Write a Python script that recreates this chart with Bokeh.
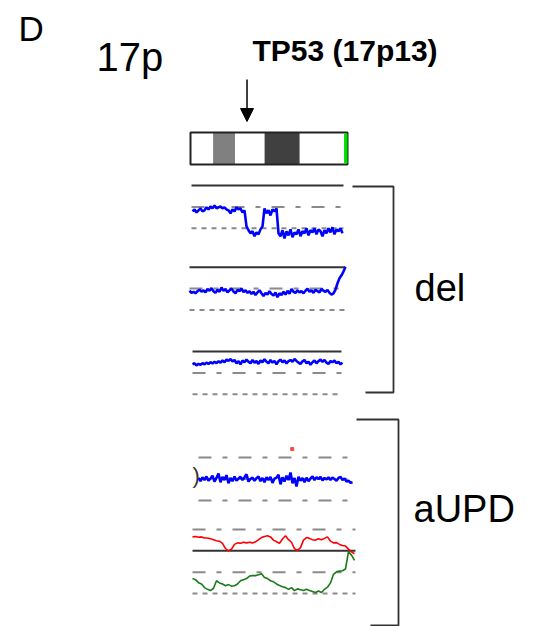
import numpy as np
from bokeh.plotting import figure
from bokeh.models import Range1d, Arrow, NormalHead
from bokeh.core.properties import value
from bokeh.embed import file_html
from bokeh.resources import INLINE

# ---------------- data ----------------
# chromosome 17p ideogram bands (Mb)
BAND_START = [0.0, 3.6, 7.1, 11.8, 17.4, 24.2]
BAND_END = [3.6, 7.1, 11.8, 17.4, 24.2, 25.0]
BAND_STAIN = ["gneg", "gpos50", "gneg", "gpos75", "gneg", "acen"]
TP53_MB = 9.0

# del sample 1 (log-ratio-like units: 0 = solid line, -1 dash-dot, -2 dashed)
DEL1_RANGE = (0.32, 24.2)
DEL1 = [-1.21, -1.12, -1.26, -1.16, -1.07, -1.21, -1.16, -1.02, -1.12, -0.98,
        -1.07, -0.93, -1.07, -1.02, -0.98, -1.07, -1.02, -1.12, -1.16, -1.30,
        -1.12, -1.21, -1.02, -1.12, -1.07, -1.26, -1.16,
        -1.91, -2.09, -2.23, -2.14, -2.37, -2.19, -2.28, -2.05, -1.91,
        -1.07, -1.30, -1.16, -1.40, -1.12, -1.21, -1.07,
        -2.23, -2.37, -2.09, -2.47, -2.14, -2.33, -2.05, -2.42, -2.19, -2.28,
        -2.05, -2.37, -2.14, -2.23, -2.00, -2.33, -2.09, -2.19, -2.00, -2.28,
        -2.05, -2.14, -2.37, -2.09, -2.23, -2.00, -2.19, -1.95, -2.28, -2.05,
        -2.14, -2.00, -2.23]

# del sample 2
DEL2_RANGE = (-0.16, 24.68)
DEL2 = [-1.10, -1.20, -1.15, -1.22, -1.12, -1.05, -1.14, -1.08, -1.18, -1.02,
        -1.10, -0.98, -1.12, -1.20, -1.05, -1.15, -0.95, -1.10, -1.02, -1.18,
        -1.08, -1.00, -1.14, -1.22, -1.06, -1.12, -1.00, -1.16, -1.08, -1.20,
        -1.12,
        -1.25, -1.15, -1.30, -1.18, -1.08, -1.22, -1.35, -1.20, -1.28, -1.12,
        -1.25, -1.32, -1.18, -1.40, -1.22, -1.30, -1.15, -1.28, -1.10, -1.24,
        -1.02, -1.15, -1.20, -1.08, -1.18, -1.12, -1.22,
        -1.10, -1.00, -1.15, -1.08, -1.20, -1.05, -1.12, -1.18, -1.02, -1.10,
        -1.15, -1.06, -1.20, -1.28,
        -1.22, -1.05, -0.75, -0.52, -0.38, -0.20, 0.02]

# del sample 3
DEL3_RANGE = (0.32, 24.2)
DEL3 = [-0.60, -0.55, -0.65, -0.58, -0.62, -0.55, -0.60, -0.52, -0.58, -0.50,
        -0.56, -0.48, -0.54, -0.46, -0.52, -0.42, -0.50, -0.38, -0.44, -0.35,
        -0.46, -0.40, -0.55, -0.45, -0.60, -0.42, -0.50, -0.38, -0.48, -0.55,
        -0.40, -0.52, -0.45, -0.58, -0.42, -0.50, -0.36, -0.48, -0.55, -0.40,
        -0.52, -0.44, -0.60, -0.46, -0.38, -0.50, -0.42, -0.56, -0.45, -0.40,
        -0.48, -0.35, -0.44, -0.52, -0.58, -0.46, -0.40, -0.55, -0.48, -0.62,
        -0.50, -0.42, -0.55, -0.45, -0.38, -0.48, -0.40, -0.52, -0.58, -0.45,
        -0.50, -0.42, -0.55, -0.48, -0.60, -0.52]

# aUPD sample: total copy number trace
UPD_TOTAL_RANGE = (1.27, 25.8)
UPD_TOTAL = [0.05, -0.10, 0.08, -0.05, 0.12, -0.08, 0.02, 0.15, -0.12, 0.05,
             0.25, -0.15, 0.10, -0.05, 0.18, -0.20, 0.05, -0.10, 0.12, -0.08,
             0.02, 0.10, -0.05, 0.08, 0.22, -0.12, 0.00, 0.06, -0.08, 0.04,
             0.12, -0.10, 0.05, -0.15, 0.08, -0.05, 0.10, -0.18, 0.02, 0.06,
             0.20, -0.25, 0.08, -0.12, 0.15, -0.05, 0.30, -0.20, 0.05, -0.35,
             0.10, -0.08, 0.04, -0.15, 0.06, -0.10, 0.02, 0.12, -0.05, 0.08,
             0.00, 0.10, -0.06, 0.05, -0.02, 0.08, -0.04, 0.06, 0.00, -0.08,
             0.05, 0.10, -0.05, 0.02, -0.12, -0.08, -0.18, -0.15]
UPD_OUTLIER = (16.2, 1.4)

# aUPD sample: allele-specific traces
UPD_ALLELE_RANGE = (0.32, 26.11)
UPD_MAJOR = [0.65, 0.67, 0.63, 0.65, 0.60, 0.60, 0.56, 0.52, 0.47, 0.45,
             0.35, 0.10, 0.00, 0.08, 0.30, 0.37, 0.35, 0.40, 0.37, 0.40,
             0.37, 0.42, 0.52, 0.62, 0.67, 0.70, 0.65, 0.50, 0.42, 0.35,
             0.55, 0.70, 0.52, 0.40, 0.10, 0.02, 0.15, 0.50, 0.62, 0.58,
             0.52, 0.50, 0.56, 0.52, 0.58, 0.65, 0.45, 0.37, 0.38, 0.30,
             0.25, 0.22, 0.08, -0.05, -0.14]
UPD_MINOR = [-1.30, -1.35, -1.49, -1.55, -1.72, -1.80, -1.86, -1.75, -1.40, -1.50,
             -1.55, -1.63, -1.58, -1.65, -1.63, -1.55, -1.40, -1.35, -1.30, -1.18,
             -1.16, -1.16, -1.12, -1.07, -1.25, -1.30, -1.40, -1.45, -1.55, -1.62,
             -1.68, -1.72, -1.80, -1.72, -1.86, -1.78, -1.82, -1.86, -1.80, -1.86,
             -1.90, -1.95, -1.88, -1.95, -1.80, -1.70, -1.50, -1.10, -0.98, -0.95,
             -0.93, -0.85, -0.05, -0.20, -0.45]

# reference lines of each panel: (level, style)
DEL_LEVELS = [(0, "solid"), (-1, "dashdot"), (-2, "dashed")]
UPD1_LEVELS = [(1, "dashdot"), (0, "dashdot"), (-1, "dashdot")]
UPD2_LEVELS = [(1, "dashdot"), (0, "solid"), (-1, "dashdot"), (-2, "dashed")]

# ---------------- layout ----------------
W, H = 540, 626
MB0_PX, PX_PER_MB = 190.0, 6.28
UNIT_PX = 21.4
PANELS = {
    "p1": dict(y0=185.0, lines=(0.16, 24.36), levels=DEL_LEVELS),
    "p2": dict(y0=266.7, lines=(-0.16, 24.6), levels=DEL_LEVELS),
    "p3": dict(y0=351.0, lines=(0.32, 24.04), levels=DEL_LEVELS),
    "p4": dict(y0=478.5, lines=(1.27, 25.8), levels=UPD1_LEVELS),
    "p5": dict(y0=550.3, lines=(0.32, 26.27), levels=UPD2_LEVELS),
}
STYLE = {
    "solid": dict(color="#333333", dash="solid", width=2.0),
    "dashdot": dict(color="#8a8a8a", dash="13 11 5 11", width=2.0),
    "dashed": dict(color="#8a8a8a", dash="5 5", width=2.0),
}
FONT = "Liberation Sans"

p = figure(width=W, height=H, x_range=Range1d(0, W), y_range=Range1d(H, 0),
           x_axis_type=None, y_axis_type=None, toolbar_location=None,
           output_backend="svg", min_border=0, outline_line_color=None)
p.grid.visible = False
p.background_fill_color = "white"

p.extra_x_ranges = {"mb": Range1d(-MB0_PX / PX_PER_MB, (W - MB0_PX) / PX_PER_MB)}
yr = {}
for name, cfg in PANELS.items():
    yr[name] = Range1d((cfg["y0"] - H) / UNIT_PX, cfg["y0"] / UNIT_PX)
p.extra_y_ranges = yr

# ideogram
IDEO_TOP, IDEO_BOT = 132, 164
stain_col = {"gneg": "white", "gpos50": "#808080", "gpos75": "#404040", "acen": "#00e000"}
p.quad(left=BAND_START[:-1], right=BAND_END[:-1], top=IDEO_TOP, bottom=IDEO_BOT,
       x_range_name="mb", fill_color=[stain_col[s] for s in BAND_STAIN[:-1]], line_color=None)
p.quad(left=[BAND_START[0]], right=[BAND_END[-1]], top=IDEO_TOP, bottom=IDEO_BOT,
       x_range_name="mb", fill_color=None, line_color="#222222", line_width=2)
p.quad(left=[BAND_START[-1] + 0.25], right=[BAND_END[-1]], top=IDEO_TOP + 1, bottom=IDEO_BOT - 1,
       x_range_name="mb", fill_color=stain_col[BAND_STAIN[-1]], line_color=None)

# arrow to TP53
p.add_layout(Arrow(x_start=TP53_MB, y_start=79, x_end=TP53_MB, y_end=121,
                   x_range_name="mb", line_width=1.5, line_color="black",
                   end=NormalHead(size=13, fill_color="black", line_color="black", line_width=1)))

# reference lines
for name, cfg in PANELS.items():
    a, b = cfg["lines"]
    for lvl, st in cfg["levels"]:
        s = STYLE[st]
        p.line(x=[a, b], y=[lvl, lvl], x_range_name="mb", y_range_name=name,
               line_color=s["color"], line_dash=s["dash"], line_width=s["width"])

def trace(vals, rng, name, color, width):
    xs = np.linspace(rng[0], rng[1], len(vals))
    p.line(x=xs, y=vals, x_range_name="mb", y_range_name=name,
           line_color=color, line_width=width)

BLUE = "#0000ff"
trace(DEL1, DEL1_RANGE, "p1", BLUE, 2.6)
trace(DEL2, DEL2_RANGE, "p2", BLUE, 2.6)
trace(DEL3, DEL3_RANGE, "p3", BLUE, 2.6)
trace(UPD_TOTAL, UPD_TOTAL_RANGE, "p4", BLUE, 2.6)
trace(UPD_MAJOR, UPD_ALLELE_RANGE, "p5", "#ff0000", 1.6)
trace(UPD_MINOR, UPD_ALLELE_RANGE, "p5", "#1a7a1a", 1.6)
p.scatter(x=[UPD_OUTLIER[0]], y=[UPD_OUTLIER[1]], x_range_name="mb", y_range_name="p4",
          marker="square", size=3, color="#ff4444")

# brackets
p.line(x=[352, 393, 393, 365], y=[186, 186, 392, 392], line_color="#333333", line_width=1.8)
p.line(x=[356, 398, 398, 370], y=[419, 419, 625, 625], line_color="#333333", line_width=1.8)

# labels (y is the target baseline; rendered baseline sits ~0.4 em lower)
def label(x, y, t, size, bold=False, color="black"):
    p.text(x=[x], y=[y - 0.4 * size], text=[t], text_font=value(FONT),
           text_font_size=f"{size}px",
           text_font_style="bold" if bold else "normal", text_color=color,
           text_baseline="alphabetic", text_align="left")

label(192, 484, ")", 22, color="#333333")
label(18, 42, "D", 35)
label(96, 72, "17p", 40)
label(252, 62, "TP53 (17p13)", 30, bold=True)
label(414, 303, "del", 38)
label(413, 524, "aUPD", 38)

open("out.html", "w").write(file_html(p, INLINE))
